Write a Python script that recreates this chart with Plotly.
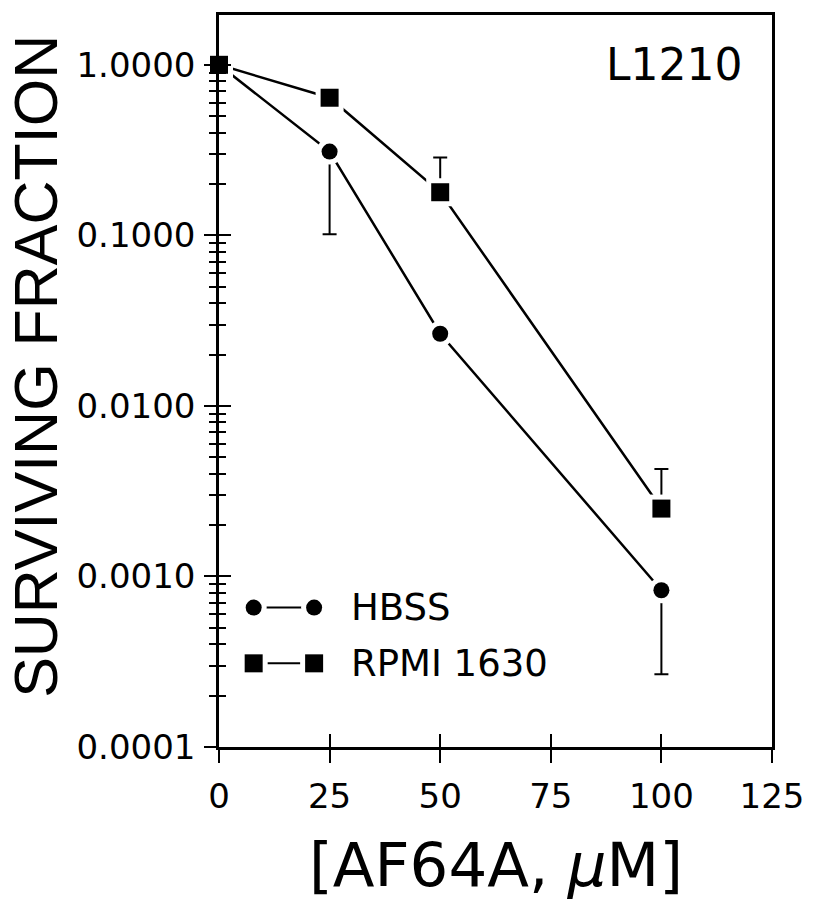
import plotly.graph_objects as go

# AF64A concentration (uM)
dose = [0, 25, 50, 100]

# Surviving fraction, cells treated in HBSS
hbss = [1.0, 0.31, 0.0265, 0.00083]
hbss_lower = [1.0, 0.1016, 0.0265, 0.000267]   # lower end of error bar

# Surviving fraction, cells treated in RPMI 1630
rpmi = [1.0, 0.641, 0.179, 0.0025]
rpmi_upper = [1.0, 0.641, 0.286, 0.00426]      # upper end of error bar

x_ticks = [0, 25, 50, 75, 100, 125]
y_ticks = [0.0001, 0.001, 0.01, 0.1, 1.0]
y_tick_text = ["0.0001", "0.0010", "0.0100", "0.1000", "1.0000"]
y_minor = [m * 10 ** e for e in range(-4, 0) for m in range(2, 10)]

series_names = ["HBSS", "RPMI 1630"]

FONT = "DejaVu Sans"
INK = "black"
GAP = 10          # white halo around markers so lines stop short of them
CIRCLE = 16
SQUARE = 18
LW = 2.5

hbss_minus = [v - lo for v, lo in zip(hbss, hbss_lower)]
rpmi_plus = [hi - v for v, hi in zip(rpmi, rpmi_upper)]
zeros = [0] * len(dose)

fig = go.Figure()


def add_series(y, symbol, size, err):
    # connecting line + error bars
    fig.add_trace(go.Scatter(
        x=dose, y=y, mode="lines",
        line=dict(color=INK, width=LW),
        error_y=err,
        showlegend=False, hoverinfo="skip", cliponaxis=False))
    # white halo to open a gap between line and marker
    fig.add_trace(go.Scatter(
        x=dose, y=y, mode="markers",
        marker=dict(symbol=symbol, size=size + GAP, color="white"),
        showlegend=False, hoverinfo="skip", cliponaxis=False))
    fig.add_trace(go.Scatter(
        x=dose, y=y, mode="markers",
        marker=dict(symbol=symbol, size=size, color=INK),
        showlegend=False, cliponaxis=False))


add_series(hbss, "circle", CIRCLE,
           dict(type="data", symmetric=False, array=zeros, arrayminus=hbss_minus,
                color=INK, thickness=2, width=7))
add_series(rpmi, "square", SQUARE,
           dict(type="data", symmetric=False, array=rpmi_plus, arrayminus=zeros,
                color=INK, thickness=2, width=7))

# hidden trace so the inside-tick overlay axes are drawn
fig.add_trace(go.Scatter(x=[None], y=[None], xaxis="x2", yaxis="y2",
                         showlegend=False, hoverinfo="skip"))

# hand-drawn legend on a paper-like overlay axis
leg_x = [0.0627, 0.172]
leg_rows = [0.1905, 0.1143]
leg_symbols = [("circle", CIRCLE), ("square", SQUARE)]
for row_y, (sym, sz), name in zip(leg_rows, leg_symbols, series_names):
    fig.add_trace(go.Scatter(x=leg_x, y=[row_y, row_y], mode="lines",
                             line=dict(color=INK, width=2), xaxis="x3", yaxis="y3",
                             showlegend=False, hoverinfo="skip", cliponaxis=False))
    fig.add_trace(go.Scatter(x=leg_x, y=[row_y, row_y], mode="markers",
                             marker=dict(symbol=sym, size=sz + GAP, color="white"),
                             xaxis="x3", yaxis="y3",
                             showlegend=False, hoverinfo="skip", cliponaxis=False))
    fig.add_trace(go.Scatter(x=leg_x, y=[row_y, row_y], mode="markers",
                             marker=dict(symbol=sym, size=sz, color=INK),
                             xaxis="x3", yaxis="y3",
                             showlegend=False, hoverinfo="skip", cliponaxis=False))
    fig.add_annotation(text=name, xref="paper", yref="paper",
                       x=0.2348, y=row_y, xanchor="left", yanchor="middle",
                       showarrow=False, font=dict(family=FONT, size=37, color=INK))

x_range = [0, 125]
y_range = [-4, 0.292]
tickfont = dict(family=FONT, size=34, color=INK)

fig.update_layout(
    width=816, height=901,
    margin=dict(l=219, r=39, t=12, b=154),
    paper_bgcolor="white", plot_bgcolor="white",
    showlegend=False,
    xaxis=dict(range=x_range, tickvals=x_ticks, ticks="outside", ticklen=13,
               tickwidth=2, tickcolor=INK, showline=True, linewidth=2.5,
               linecolor=INK, mirror=True, showgrid=False, zeroline=False,
               tickfont=tickfont, ticklabelstandoff=4),
    xaxis2=dict(range=x_range, overlaying="x", anchor="y2", side="bottom",
                tickvals=x_ticks, ticks="inside", ticklen=13, tickwidth=2,
                tickcolor=INK, showticklabels=False, showline=False,
                showgrid=False, zeroline=False),
    yaxis=dict(type="log", range=y_range, tickvals=y_ticks, ticktext=y_tick_text,
               ticks="outside", ticklen=12, tickwidth=2, tickcolor=INK,
               minor=dict(tickvals=y_minor, ticks="outside", ticklen=7,
                          tickwidth=2, tickcolor=INK, showgrid=False),
               showline=True, linewidth=2.5, linecolor=INK, mirror=True,
               showgrid=False, zeroline=False, tickfont=tickfont,
               ticklabelstandoff=2),
    yaxis2=dict(type="log", range=y_range, overlaying="y", anchor="x2", side="left",
                tickvals=y_ticks, ticks="inside", ticklen=12, tickwidth=2,
                tickcolor=INK, showticklabels=False,
                minor=dict(tickvals=y_minor, ticks="inside", ticklen=7,
                           tickwidth=2, tickcolor=INK, showgrid=False),
                showline=False, showgrid=False, zeroline=False),
    xaxis3=dict(range=[0, 1], overlaying="x", visible=False, anchor="y3"),
    yaxis3=dict(range=[0, 1], overlaying="y", visible=False, anchor="x3"),
)

fig.add_annotation(text="L1210", xref="paper", yref="paper", x=0.9516, y=0.933,
                   xanchor="right", yanchor="middle", showarrow=False,
                   font=dict(family=FONT, size=44, color=INK))

fig.add_annotation(text="[AF64A, <i>\u03bc</i>M]", xref="paper", yref="paper",
                   x=0.5, y=-0.16, xanchor="center", yanchor="middle",
                   showarrow=False, font=dict(family=FONT, size=61, color=INK))

fig.add_annotation(text="SURVIVING FRACTION", xref="paper", yref="paper",
                   x=-0.33, y=0.52, xanchor="center", yanchor="middle",
                   textangle=-90, showarrow=False,
                   font=dict(family="Liberation Sans Narrow, Liberation Sans", size=61,
                             color=INK))

fig.write_html("out.html")
